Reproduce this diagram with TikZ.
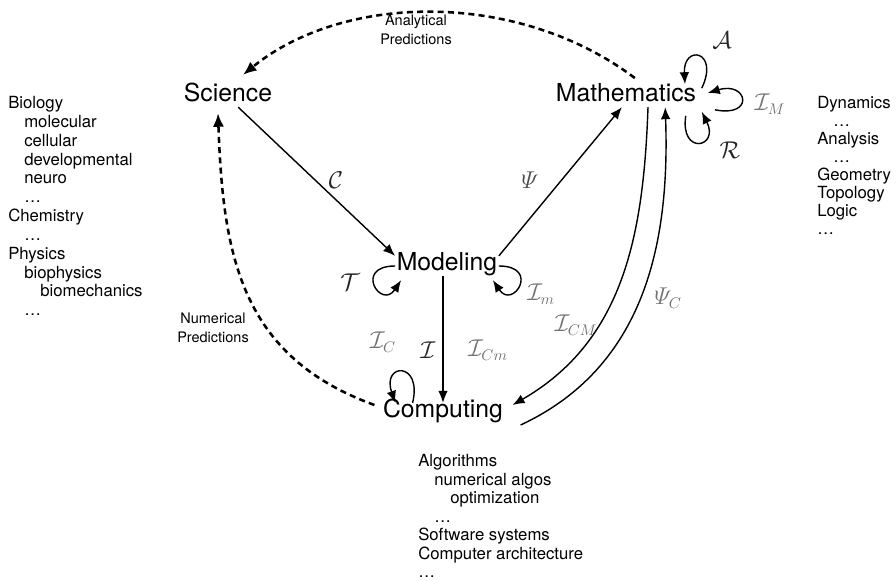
\documentclass[tikz,border=0pt]{standalone}
\usepackage{amsmath}
\usepackage{fontspec}
\setmainfont{TeX Gyre Heros}
\usetikzlibrary{arrows.meta,positioning}
\tikzset{
  area/.style={font=\fontsize{17.6}{20}\selectfont, inner sep=1pt,
               text height=1.8ex, text depth=0.5ex},
  lst/.style={font=\fontsize{11.9}{13.2}\selectfont, align=left, inner sep=0pt,
              anchor=north west},
  pred/.style={font=\fontsize{10.3}{13.8}\selectfont, align=center, inner sep=0pt},
  op/.style={font=\fontsize{16}{18}\selectfont, text=black!85, inner sep=0pt},
  opl/.style={op, text=black!55},
  ar/.style={-{Latex[length=3mm,width=2.4mm]}, line width=1pt},
  dsh/.style={-{Latex[length=3.4mm,width=2.8mm]}, line width=1.8pt,
              dash pattern=on 4.3pt off 3pt},
}
\newcommand{\ind}[1]{\hspace*{#1}}

\begin{document}
\begin{tikzpicture}[x=0.025cm, y=-0.025cm]
\useasboundingbox (0,0) rectangle (896,580);

% ============================ main areas ================================
\node[area] (sci)  at (228,97)  {Science};
\node[area] (mat)  at (626,97)  {Mathematics};
\node[area] (mod)  at (447,266) {Modeling};
\node[area] (comp) at (443,413) {Computing};

% ============================ side lists ================================
\node[lst, font=\fontsize{11.9}{13.4}\selectfont] (bio) at (8,96)
  {Biology\\\ind{4mm}molecular\\\ind{4mm}cellular\\\ind{4mm}developmental\\
   \ind{4mm}neuro\\\ind{4mm}\dots\\Chemistry\\\ind{4mm}\dots\\Physics\\
   \ind{4mm}biophysics\\\ind{8mm}biomechanics\\\ind{4mm}\dots};
\node[lst, font=\fontsize{11.9}{12.8}\selectfont] (mth) at (817,96)
  {Dynamics\\\ind{4mm}\dots\\Analysis\\\ind{4mm}\dots\\Geometry\\Topology\\
   Logic\\\dots};
\node[lst] (alg) at (418,454)
  {Algorithms\\\ind{4mm}numerical algos\\\ind{8mm}optimization\\
   \ind{4mm}\dots\\Software systems\\Computer architecture\\\dots};

% ============================ mappings ==================================
\draw[ar] (sci.-45) -- (mod.north west);
\node[op] (lC) at (336,180) {$\mathcal{C}$};

\draw[ar] (mod.north east) -- (mat.-112);
\node[op, text=black!70] (lPsi) at (530,180) {$\varPsi$};

\draw[ar] (comp.north |- mod.south) -- (comp.north);
\node[op]  (lI)   at (428,350) {$\mathcal{I}$};
\node[opl] (lICm) at (488,350) {$\mathcal{I}_{Cm}$};

\draw[ar] ([xshift=5.5mm]mat.south) to[out=-92, in=30]
  ([xshift=2mm, yshift=2mm]comp.east);
\node[opl] (lICM) at (576,325) {$\mathcal{I}_{CM}$};

\draw[ar] ([xshift=4mm, yshift=-3mm]comp.east) to[out=25, in=-88]
  ([xshift=9.8mm]mat.south);
\node[opl] (lPsiC) at (668,298) {$\varPsi_C$};

% ============================ self maps =================================
\draw[ar] ([xshift=1mm, yshift=2.2mm]mat.east) .. controls +(18,-38) and +(-2,-40) ..
  ([xshift=-3.2mm, yshift=3.2mm]mat.east);
\node[op] (lA) at (722,40) {$\mathcal{A}$};

\draw[ar] ([xshift=4.3mm, yshift=-3.2mm]mat.east) .. controls +(40,8) and +(40,-12) ..
  ([xshift=2.5mm, yshift=1mm]mat.east);
\node[opl] (lIM) at (770,104) {$\mathcal{I}_M$};

\draw[ar] ([xshift=-3mm, yshift=-4.7mm]mat.east) .. controls +(-6,40) and +(18,36) ..
  ([xshift=1mm, yshift=-3.7mm]mat.east);
\node[op] (lR) at (730,150) {$\mathcal{R}$};

\draw[ar] (mod.west) .. controls +(-42,0) and +(-20,30) ..
  ([xshift=1.5mm, yshift=-1mm]mod.south west);
\node[op] (lT) at (350,282) {$\mathcal{T}$};

\draw[ar] (mod.east) .. controls +(42,0) and +(20,30) ..
  ([xshift=-1.5mm, yshift=-1mm]mod.south east);
\node[opl] (lIm) at (541,294) {$\mathcal{I}_m$};

\draw[ar] ([xshift=7.8mm]comp.north west) .. controls +(10,-42) and +(-14,-40) ..
  ([xshift=3.5mm]comp.north west);
\node[opl] (lIC) at (383,342) {$\mathcal{I}_C$};

% ============================ predictions ===============================
\draw[dsh] ([xshift=2.2mm, yshift=2.2mm]mat.north) .. controls +(-115,-87) and +(102,-83) ..
  ([xshift=3.75mm, yshift=3mm]sci.north);
\node[pred] (lAna) at (416,30) {Analytical\\Predictions};

\draw[dsh] ([xshift=-1.75mm, yshift=2mm]comp.west) to[out=160, in=-88, looseness=1.1]
  ([xshift=-2.5mm, yshift=-1.5mm]sci.south);
\node[pred] (lNum) at (213,328) {Numerical\\Predictions};

\end{tikzpicture}
\end{document}
